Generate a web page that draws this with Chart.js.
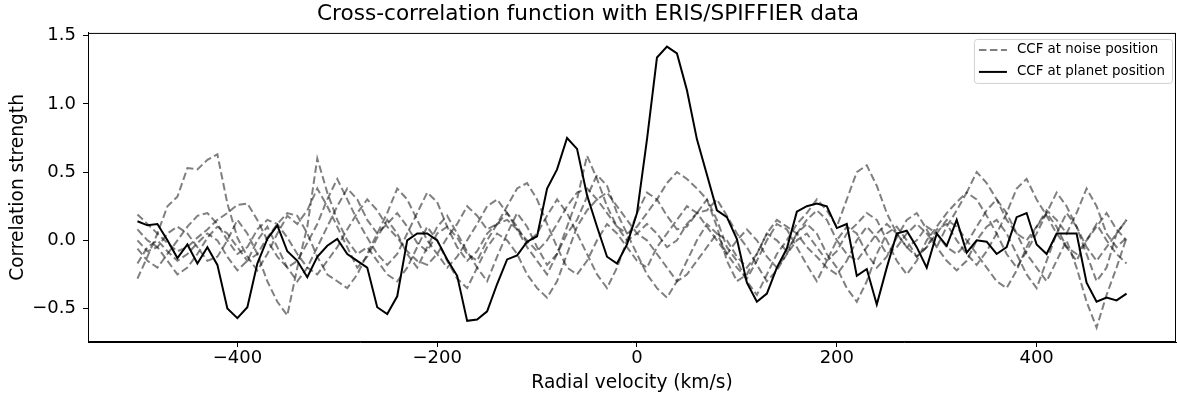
<!DOCTYPE html>
<html>
<head>
<meta charset="utf-8">
<script src="https://cdn.jsdelivr.net/npm/chart.js@4.4.1/dist/chart.umd.min.js"></script>
<style>
  html, body { margin: 0; padding: 0; background: #fff; }
  #wrap { width: 1177px; height: 399px; }
</style>
</head>
<body>
<div id="wrap"><canvas id="ccf"></canvas></div>
<script>
// radial velocity grid, km/s
const velocities = [];
for (let v = -500; v < 500; v += 10) velocities.push(v);

const xTicks = [-400, -200, 0, 200, 400];
const yTicks = [-0.5, 0.0, 0.5, 1.0, 1.5];

// CCF at planet position
const planetCCF = [
  0.14, 0.11, 0.12, 0.00, -0.13, -0.03, -0.17, -0.05, -0.18, -0.50,
  -0.57, -0.49, -0.17, 0.01, 0.11, -0.08, -0.15, -0.27, -0.12, -0.04,
  0.01, -0.10, -0.15, -0.20, -0.49, -0.54, -0.41, 0.00, 0.05, 0.05,
  0.00, -0.14, -0.26, -0.59, -0.58, -0.52, -0.32, -0.14, -0.11, -0.01,
  0.03, 0.38, 0.52, 0.75, 0.67, 0.33, 0.10, -0.12, -0.17, -0.03,
  0.20, 0.74, 1.34, 1.42, 1.37, 1.10, 0.74, 0.48, 0.22, 0.17,
  0.01, -0.31, -0.45, -0.39, -0.20, -0.06, 0.21, 0.25, 0.27, 0.25,
  0.09, 0.12, -0.26, -0.21, -0.47, -0.20, 0.05, 0.07, -0.05, -0.20,
  0.05, -0.04, 0.15, -0.09, 0.00, -0.01, -0.10, -0.05, 0.17, 0.20,
  -0.03, -0.10, 0.05, 0.05, 0.05, -0.31, -0.45, -0.42, -0.44, -0.39
];

// CCFs at noise positions
const noise1 = [
  -0.28, -0.12, 0.05, 0.25, 0.32, 0.53, 0.52, 0.59, 0.63, 0.27,
  0.02, -0.12, -0.22, -0.10, 0.05, 0.18, 0.12, 0.22, 0.38, 0.25,
  0.10, -0.05, -0.20, -0.12, 0.02, 0.15, 0.05, -0.10, -0.20, -0.05,
  0.10, 0.18, 0.05, -0.08, -0.20, -0.30, -0.12, 0.05, 0.20, 0.10,
  -0.05, -0.18, -0.10, 0.05, 0.15, 0.32, 0.48, 0.40, 0.20, 0.05,
  -0.10, -0.25, -0.35, -0.42, -0.30, -0.15, 0.00, 0.12, 0.05, -0.10,
  -0.20, -0.28, -0.15, 0.00, 0.12, 0.08, -0.05, -0.18, -0.30, -0.15,
  0.00, 0.10, 0.05, -0.10, -0.20, -0.12, 0.02, 0.15, 0.20, 0.08,
  -0.05, 0.10, 0.22, 0.35, 0.30, 0.18, 0.05, -0.10, -0.20, -0.08,
  0.05, 0.20, 0.35, 0.25, 0.10, -0.05, -0.15, -0.05, 0.05, 0.15
];
const noise2 = [
  0.19, 0.12, 0.05, -0.02, -0.08, -0.05, 0.02, 0.08, 0.15, 0.20,
  0.26, 0.27, 0.15, 0.00, -0.12, -0.20, -0.15, -0.02, 0.12, 0.30,
  0.45, 0.30, 0.15, 0.02, -0.10, -0.18, -0.10, 0.05, 0.20, 0.35,
  0.28, 0.10, -0.05, -0.15, -0.08, 0.05, 0.12, 0.15, 0.08, -0.05,
  -0.15, -0.25, -0.10, 0.10, 0.30, 0.62, 0.45, 0.25, 0.10, 0.05,
  0.10, 0.20, 0.30, 0.42, 0.50, 0.45, 0.38, 0.30, 0.10, -0.15,
  -0.30, -0.25, -0.10, 0.05, 0.00, -0.08, 0.05, 0.12, 0.05, -0.10,
  -0.20, -0.35, -0.45, -0.30, -0.10, 0.05, 0.10, 0.00, -0.12, -0.05,
  0.08, 0.12, 0.00, -0.10, -0.18, -0.08, 0.05, 0.20, 0.38, 0.45,
  0.30, 0.18, 0.05, -0.05, -0.10, 0.00, 0.10, 0.20, 0.08, 0.00
];
const noise3 = [
  0.00, -0.08, -0.05, 0.05, 0.10, 0.05, -0.05, -0.15, -0.12, 0.00,
  0.15, 0.05, -0.10, -0.30, -0.45, -0.55, -0.20, 0.10, 0.60, 0.35,
  0.15, 0.00, -0.10, -0.05, -0.15, -0.25, -0.30, -0.20, -0.05, 0.10,
  0.00, -0.15, -0.28, -0.35, -0.20, -0.05, 0.05, 0.00, -0.10, -0.25,
  -0.35, -0.42, -0.30, -0.10, 0.10, 0.22, 0.30, 0.35, 0.25, 0.15,
  0.05, 0.00, -0.10, -0.20, -0.30, -0.25, -0.15, -0.05, 0.05, 0.00,
  -0.12, -0.20, -0.10, 0.05, 0.15, 0.10, 0.05, -0.05, -0.12, -0.20,
  -0.25, -0.15, 0.00, 0.10, 0.02, -0.10, -0.05, 0.05, 0.12, 0.05,
  -0.05, -0.15, -0.22, -0.15, 0.00, 0.10, 0.15, 0.05, -0.10, -0.25,
  -0.35, -0.15, 0.05, 0.20, 0.10, -0.10, -0.30, -0.20, 0.05, 0.15
];
const noise4 = [
  -0.06, -0.15, -0.20, -0.10, 0.00, 0.10, 0.18, 0.20, 0.12, 0.00,
  -0.10, -0.05, 0.08, 0.15, 0.12, 0.02, -0.10, -0.20, -0.25, -0.15,
  -0.05, 0.08, 0.20, 0.30, 0.22, 0.10, 0.02, -0.08, -0.15, -0.18,
  -0.10, 0.02, 0.12, 0.25, 0.18, 0.08, 0.12, 0.20, 0.10, -0.02,
  0.05, 0.18, 0.30, 0.20, 0.05, -0.10, -0.25, -0.35, -0.20, 0.00,
  0.20, 0.35, 0.30, 0.18, 0.08, 0.10, 0.20, 0.30, 0.15, -0.05,
  -0.15, -0.30, -0.40, -0.25, -0.10, 0.00, 0.12, 0.20, 0.30, 0.22,
  0.10, 0.30, 0.50, 0.55, 0.40, 0.20, 0.05, -0.05, 0.00, 0.10,
  0.05, -0.05, -0.10, -0.02, 0.10, 0.22, 0.30, 0.20, 0.05, -0.10,
  -0.20, -0.30, -0.15, 0.00, -0.20, -0.45, -0.64, -0.40, -0.20, 0.02
];
const noise5 = [
  -0.17, -0.05, 0.00, -0.08, -0.15, -0.10, -0.02, 0.05, 0.00, -0.12,
  -0.22, -0.15, 0.00, 0.10, -0.05, -0.20, -0.30, -0.20, -0.05, 0.10,
  0.25, 0.38, 0.30, 0.15, 0.05, 0.12, 0.20, 0.10, -0.02, -0.08,
  0.05, 0.10, 0.02, -0.10, -0.15, 0.00, 0.12, 0.25, 0.38, 0.42,
  0.30, 0.12, -0.05, -0.20, -0.25, -0.15, 0.00, 0.12, 0.05, -0.05,
  -0.15, -0.20, -0.05, 0.05, 0.15, 0.25, 0.20, 0.10, 0.00, -0.10,
  0.00, 0.08, 0.00, -0.12, -0.20, -0.10, 0.05, 0.15, 0.22, 0.15,
  0.00, -0.10, -0.15, -0.05, 0.05, 0.12, 0.05, -0.05, -0.12, -0.05,
  0.05, 0.15, 0.10, 0.00, -0.10, -0.20, -0.30, -0.35, -0.22, -0.05,
  0.10, 0.20, 0.10, -0.05, -0.15, 0.00, 0.12, 0.00, -0.10, -0.17
];
const noise6 = [
  0.08, 0.00, -0.05, -0.15, -0.25, -0.20, -0.10, 0.02, 0.10, 0.05,
  -0.05, -0.15, -0.10, 0.02, 0.12, 0.20, 0.18, 0.05, -0.12, -0.25,
  -0.30, -0.35, -0.25, -0.10, 0.05, 0.20, 0.38, 0.30, 0.15, 0.00,
  -0.10, -0.20, -0.12, 0.00, 0.12, 0.25, 0.30, 0.20, 0.08, 0.00,
  -0.08, 0.00, 0.12, 0.25, 0.35, 0.38, 0.30, 0.20, 0.10, 0.00,
  0.05, 0.12, 0.05, -0.05, 0.00, 0.12, 0.20, 0.22, 0.30, 0.18,
  0.05, -0.05, -0.18, -0.30, -0.22, -0.10, 0.00, 0.05, -0.05, -0.15,
  -0.08, 0.05, 0.12, 0.20, 0.15, 0.00, -0.15, -0.25, -0.15, 0.00,
  0.10, 0.20, 0.28, 0.35, 0.50, 0.42, 0.30, 0.15, 0.05, 0.00,
  0.10, 0.22, 0.15, 0.05, 0.20, 0.38, 0.25, 0.05, -0.05, 0.02
];
const noiseSeries = [noise1, noise2, noise3, noise4, noise5, noise6];

const FONT = "'DejaVu Sans', sans-serif";
const toXY = (arr) => arr.map((y, i) => ({ x: velocities[i], y: y }));
const fmt = (v, d) => (v < 0 ? "\u2212" : "") + Math.abs(v).toFixed(d);

const datasets = noiseSeries.map((s, i) => ({
  label: i === 0 ? "CCF at noise position" : "",
  data: toXY(s),
  borderColor: "rgba(0,0,0,0.5)",
  borderWidth: 2,
  borderDash: [7.5, 3.5],
  pointRadius: 0,
  tension: 0,
}));
datasets.push({
  label: "CCF at planet position",
  data: toXY(planetCCF),
  borderColor: "#000",
  borderWidth: 2,
  pointRadius: 0,
  tension: 0,
});

// box round the axes
const framePlugin = {
  id: "frame",
  afterDraw(chart) {
    const { ctx, chartArea: a } = chart;
    ctx.save();
    ctx.strokeStyle = "#000";
    ctx.lineWidth = 1;
    ctx.strokeRect(a.left + 0.5, a.top + 0.5, a.right - a.left - 1, a.bottom - a.top - 1);
    ctx.restore();
  },
};

// legend in the top right corner, matplotlib style
const legendPlugin = {
  id: "ccfLegend",
  afterDatasetsDraw(chart) {
    const { ctx, chartArea: a } = chart;
    const items = chart.data.datasets.filter((d) => d.label);
    ctx.save();
    ctx.font = "13.4px " + FONT;
    const textW = Math.max(...items.map((d) => ctx.measureText(d.label).width));
    const w = 5 + 28 + 10 + textW + 7;
    const h = 44;
    const x0 = a.right - 4 - w;
    const y0 = a.top + 6;
    ctx.fillStyle = "rgba(255,255,255,0.8)";
    ctx.strokeStyle = "#d0d0d0";
    ctx.lineWidth = 1;
    ctx.beginPath();
    ctx.roundRect(x0 + 0.5, y0 + 0.5, w, h, 3);
    ctx.fill();
    ctx.stroke();
    items.forEach((d, i) => {
      const cy = y0 + 11 + i * 22;
      ctx.strokeStyle = d.borderColor;
      ctx.lineWidth = d.borderWidth;
      ctx.setLineDash(d.borderDash || []);
      ctx.beginPath();
      ctx.moveTo(x0 + 5, cy);
      ctx.lineTo(x0 + 33, cy);
      ctx.stroke();
      ctx.setLineDash([]);
      ctx.fillStyle = "#000";
      ctx.textBaseline = "middle";
      ctx.fillText(d.label, x0 + 43, cy);
    });
    ctx.restore();
  },
};

new Chart(document.getElementById("ccf"), {
  type: "line",
  data: { datasets: datasets },
  plugins: [framePlugin, legendPlugin],
  options: {
    responsive: true,
    maintainAspectRatio: false,
    animation: false,
    layout: { padding: { left: 0, right: 1, top: 0, bottom: 0 } },
    plugins: {
      title: {
        display: true,
        text: "Cross-correlation function with ERIS/SPIFFIER data",
        color: "#000",
        font: { family: FONT, size: 21.6, weight: "normal" },
        padding: { top: 1, bottom: 6 },
      },
      legend: { display: false },
      tooltip: { enabled: false },
    },
    scales: {
      x: {
        type: "linear",
        min: -549.5,
        max: 539.5,
        afterBuildTicks: (s) => { s.ticks = xTicks.map((v) => ({ value: v })); },
        afterFit: (s) => { s.height = 57; },
        grid: { display: true, drawOnChartArea: false, drawTicks: true, tickLength: 5, color: "#000" },
        border: { display: true, color: "#000" },
        ticks: {
          color: "#000",
          font: { family: FONT, size: 18 },
          padding: 1,
          maxRotation: 0,
          callback: (v) => fmt(v, 0),
        },
        title: {
          display: true,
          text: "Radial velocity (km/s)",
          color: "#000",
          font: { family: FONT, size: 18.6 },
          padding: { top: 0, bottom: 4.8 },
        },
      },
      y: {
        min: -0.745,
        max: 1.52,
        afterBuildTicks: (s) => { s.ticks = yTicks.map((v) => ({ value: v })); },
        afterFit: (s) => { s.width = 88; },
        grid: { display: true, drawOnChartArea: false, drawTicks: true, tickLength: 5, color: "#000" },
        border: { display: true, color: "#000" },
        ticks: {
          color: "#000",
          font: { family: FONT, size: 18 },
          padding: 7,
          callback: (v) => fmt(v, 1),
        },
        title: {
          display: true,
          text: "Correlation strength",
          color: "#000",
          font: { family: FONT, size: 18.6 },
          padding: { top: 7, bottom: 0 },
        },
      },
    },
  },
});
</script>
</body>
</html>
